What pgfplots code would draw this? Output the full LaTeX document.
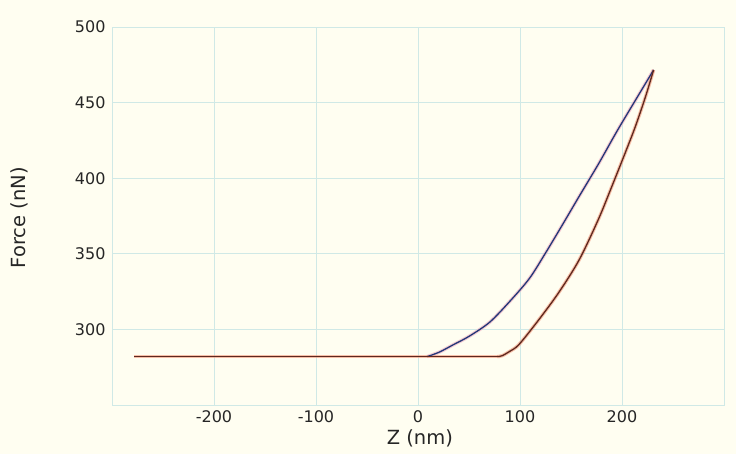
\documentclass[border=0pt]{standalone}
\usepackage{fontspec}
\setmainfont{DejaVu Sans}
\usepackage{pgfplots}
\usepackage{pgfplotstable}
\pgfplotsset{compat=1.18}
\definecolor{bgc}{RGB}{255,254,241}
\definecolor{gridc}{RGB}{208,233,230}
\definecolor{bluec}{RGB}{35,55,120}
\definecolor{redc}{RGB}{95,40,30}
\definecolor{haloB}{RGB}{235,170,190}
\definecolor{haloR}{RGB}{240,150,120}

\pgfplotstableread{
x y
-278 282
9 282
}\approachflat

\pgfplotstableread{
x y
9 282
21 285
35 290
50 295.4
70 304.6
89 317.8
109 333.5
125 350.5
141 368.5
158 388
177 409.5
195 431
214 452.5
231 471.6
}\approach

\pgfplotstableread{
x y
231 471.6
223 453.8
213 434
203 416.5
190 394.5
177 373
158 346
138 324.4
118 306
99 290
90 285.5
82.5 282.6
78 282
}\retract

\pgfplotstableread{
x y
78 282
-278 282
}\retractflat

\begin{document}
\begin{tikzpicture}
\fill[bgc] (0,0) rectangle (736pt,454pt);
\begin{axis}[
  at={(112pt,49pt)}, anchor=south west,
  scale only axis, width=612pt, height=378pt,
  xmin=-300, xmax=300, ymin=250, ymax=500,
  xtick={-200,-100,0,100,200},
  xticklabels={-200,-100,0,100,200},
  ytick={300,350,400,450,500},
  yticklabels={300,350,400,450,500},
  extra y ticks={250}, extra y tick labels={},
  extra x ticks={-300,300}, extra x tick labels={},
  grid=major,
  major grid style={gridc, line width=0.8pt},
  axis line style={gridc, line width=0.8pt},
  tick style={draw=none},
  ticklabel style={font=\fontsize{16}{18}\selectfont, text=black!85},
  xticklabel style={yshift=-2pt},
  yticklabel style={xshift=-3pt},
  label style={font=\fontsize{19.5}{22}\selectfont, text=black!85},
  xlabel={Z (nm)},
  ylabel={Force (nN)},
  xlabel style={at={(axis description cs:0.503,-0.0873)}, anchor=center},
  ylabel style={at={(axis description cs:-0.152,0.495)}, anchor=center},
  clip=false,
]
\addplot[haloB, line width=3.4pt, opacity=0.6, smooth, tension=0.5] table[x=x,y=y]{\approach};
\addplot[haloR, line width=3.4pt, opacity=0.6, smooth, tension=0.5] table[x=x,y=y]{\retract};
\addplot[haloR, line width=3.4pt, opacity=0.6] table[x=x,y=y]{\retractflat};
\addplot[bluec, line width=1.3pt] table[x=x,y=y]{\approachflat};
\addplot[bluec, line width=1.3pt, smooth, tension=0.5] table[x=x,y=y]{\approach};
\addplot[redc, line width=1.3pt, smooth, tension=0.5] table[x=x,y=y]{\retract};
\addplot[redc, line width=1.3pt] table[x=x,y=y]{\retractflat};
\end{axis}
\end{tikzpicture}
\end{document}
